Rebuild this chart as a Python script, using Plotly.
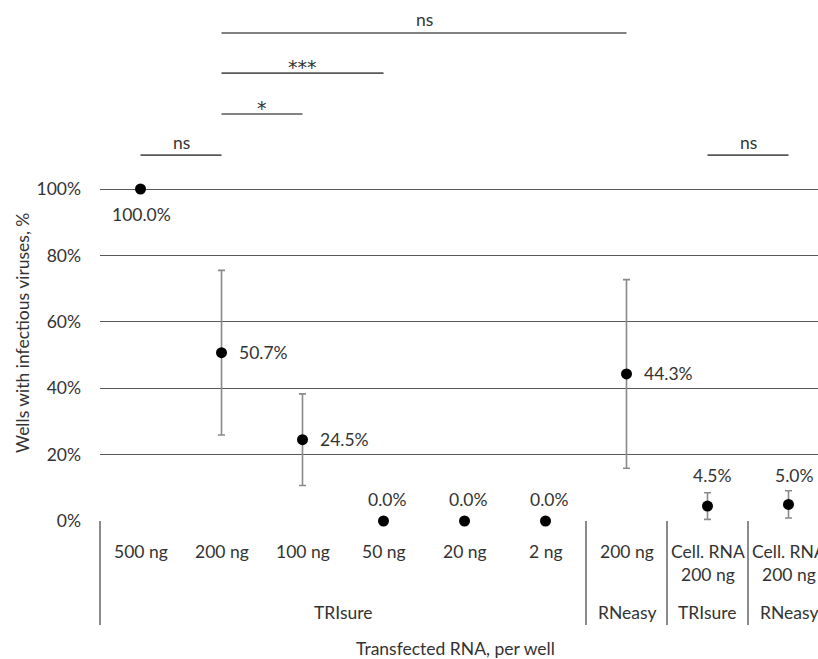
import plotly.graph_objects as go

# ---- data ----
categories = ["500 ng", "200 ng", "100 ng", "50 ng", "20 ng", "2 ng", "200 ng",
              "Cell. RNA<br>200 ng", "Cell. RNA<br>200 ng"]
groups = ["TRIsure", "RNeasy", "TRIsure", "RNeasy"]
group_spans = [(0, 5), (6, 6), (7, 7), (8, 8)]
values = [100.0, 50.7, 24.5, 0.0, 0.0, 0.0, 44.3, 4.5, 5.0]
errors = [0, 24.8, 13.8, 0, 0, 0, 28.4, 4.0, 4.1]
value_labels = ["100.0%", "50.7%", "24.5%", "0.0%", "0.0%", "0.0%", "44.3%", "4.5%", "5.0%"]
y_ticks = [0, 20, 40, 60, 80, 100]
y_tick_labels = ["0%", "20%", "40%", "60%", "80%", "100%"]
# significance brackets: (from index, to index, level in %, label)
brackets = [(0, 1, 110.2, "ns"), (1, 2, 122.6, "*"), (1, 3, 134.9, "***"),
            (1, 6, 147.0, "ns"), (7, 8, 110.2, "ns")]

# ---- layout geometry ----
W, H = 818, 659
ML, MR, MT, MB = 100, 0, 23, 138
PW, PH = W - ML - MR, H - MT - MB
XR = [-0.5, -0.5 + PW / 81.0]
YR = [0, 150]
FONT = "Lato, Carlito, Calibri, sans-serif"
TXT = "#333333"
FS = 17.5

def xpaper(xv):
    return (xv - XR[0]) / (XR[1] - XR[0])

def ypaper_px(py):
    return (H - MB - py) / PH

x = list(range(len(categories)))

fig = go.Figure()
fig.add_trace(go.Scatter(
    x=x, y=values, mode="markers",
    marker=dict(color="black", size=11),
    error_y=dict(type="data", array=errors, visible=True, color="#8a8a8a",
                 thickness=1.6, width=3.5),
    showlegend=False, cliponaxis=False, hoverinfo="skip",
))

ann = []
# value labels: (xanchor, yanchor, xshift, yshift) per point
label_pos = [("center", "middle", 1, -25), ("left", "middle", 15, 0), ("left", "middle", 15, 0),
             ("center", "middle", 3, 22), ("center", "middle", 3, 22), ("center", "middle", 3, 22),
             ("left", "middle", 15, 0), ("center", "middle", 4, 31), ("center", "middle", 5, 29)]
for i, (v, t) in enumerate(zip(values, value_labels)):
    xa, ya, xs, ys = label_pos[i]
    ann.append(dict(x=i, y=v, xref="x", yref="y", text=t, showarrow=False,
                    xanchor=xa, yanchor=ya, xshift=xs, yshift=ys,
                    font=dict(family=FONT, size=FS, color=TXT)))

# brackets
shapes = []
for a, b, lvl, t in brackets:
    shapes.append(dict(type="line", xref="x", yref="y", x0=a, x1=b, y0=lvl, y1=lvl,
                       line=dict(color="#595959", width=1.6)))
    star = t.startswith("*")
    ann.append(dict(x=(a + b) / 2, y=lvl, xref="x", yref="y", text=t, showarrow=False,
                    yanchor="middle", yshift=(6 if star else 13),
                    font=dict(family=("DejaVu Sans" if star else FONT),
                              size=(19 if star else FS), color=TXT)))

# category labels
for i, c in enumerate(categories):
    ann.append(dict(x=xpaper(i), y=ypaper_px(539), xref="paper", yref="paper", text=c,
                    showarrow=False, xanchor="center", yanchor="top",
                    font=dict(family=FONT, size=FS, color=TXT)))
# group labels
for g, (a, b) in zip(groups, group_spans):
    ann.append(dict(x=xpaper((a + b) / 2), y=ypaper_px(612), xref="paper", yref="paper",
                    text=g, showarrow=False, xanchor="center", yanchor="middle",
                    font=dict(family=FONT, size=FS, color=TXT)))

# separators in category axis
for xb in [XR[0], 5.5, 6.5, 7.5]:
    shapes.append(dict(type="line", xref="paper", yref="paper", x0=xpaper(xb), x1=xpaper(xb),
                       y0=0, y1=ypaper_px(625), line=dict(color="#595959", width=1.4)))

# axis titles
ann.append(dict(x=(455 - ML) / PW, y=ypaper_px(648), xref="paper", yref="paper",
                text="Transfected RNA, per well", showarrow=False, xanchor="center",
                yanchor="middle", font=dict(family=FONT, size=FS, color=TXT)))
ann.append(dict(x=(22 - ML) / PW, y=ypaper_px(333), xref="paper", yref="paper",
                text="Wells with infectious viruses, %", showarrow=False, textangle=-90,
                xanchor="center", yanchor="middle", font=dict(family=FONT, size=FS, color=TXT)))

fig.update_layout(
    width=W, height=H, margin=dict(l=ML, r=MR, t=MT, b=MB, pad=0),
    plot_bgcolor="white", paper_bgcolor="white", hovermode=False,
    xaxis=dict(range=XR, showticklabels=False, showgrid=False, zeroline=False,
               showline=False, ticks=""),
    yaxis=dict(range=YR, tickvals=y_ticks, ticktext=y_tick_labels, showgrid=True,
               gridcolor="#595959", gridwidth=1.4, zeroline=False, showline=False,
               ticks="", ticklabelstandoff=18,
               tickfont=dict(family=FONT, size=FS, color=TXT)),
    annotations=ann, shapes=shapes,
)

fig.write_html("out.html", config={"displayModeBar": False},
               post_script="document.body.style.margin='0';document.body.style.overflow='hidden';")
